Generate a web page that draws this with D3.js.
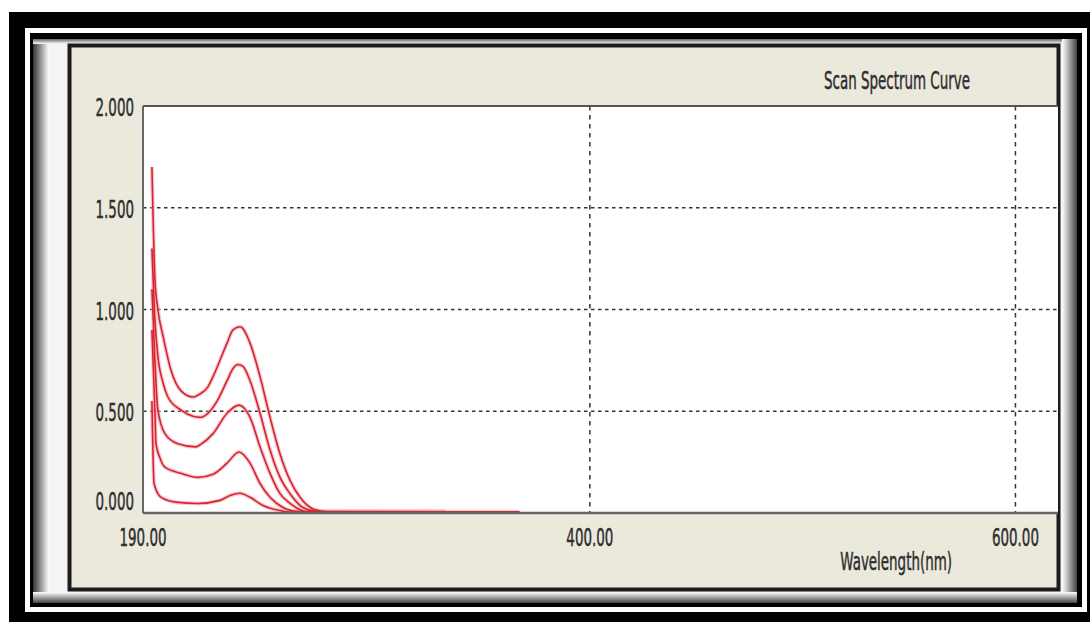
<!DOCTYPE html>
<html>
<head>
<meta charset="utf-8">
<script src="https://cdn.jsdelivr.net/npm/d3@7"></script>
<style>
  html, body { margin: 0; padding: 0; background: #fff; }
  svg { display: block; }
</style>
</head>
<body>
<script>
// spectra: [wavelength nm, absorbance]
let curve1 = [[194.2, 1.70], [195.6, 1.15], [197.0, 1.00], [199.4, 0.87], [203.2, 0.70], [207.9, 0.60],
    [213.5, 0.57], [216.8, 0.585], [220.5, 0.62], [222.9, 0.67], [229.5, 0.835], [232.3, 0.90],
    [235.6, 0.915], [240.3, 0.835], [245.0, 0.67], [249.7, 0.47], [254.4, 0.29], [259.1, 0.16],
    [263.8, 0.077], [269.9, 0.02], [276.5, 0.006], [367, 0.006]];
let curve2 = [[194.2, 1.30], [195.6, 0.95], [197.0, 0.77], [199.4, 0.64], [201.7, 0.57], [207.9, 0.505],
    [213.5, 0.475], [216.8, 0.47], [220.5, 0.49], [224.8, 0.55], [229.5, 0.65], [232.3, 0.71],
    [234.6, 0.73], [237.0, 0.72], [240.3, 0.65], [245.0, 0.49], [249.7, 0.31], [254.4, 0.175],
    [259.1, 0.095], [265.2, 0.027], [273.2, 0.006], [332, 0.006]];
let curve3 = [[194.2, 1.10], [195.6, 0.75], [197.0, 0.505], [200.3, 0.39], [206.4, 0.34], [214.9, 0.325],
    [216.8, 0.335], [222.9, 0.39], [229.5, 0.49], [235.1, 0.53], [240.3, 0.47], [245.0, 0.325],
    [249.7, 0.195], [254.4, 0.095], [259.1, 0.047], [267.1, 0.007], [332, 0.006]];
let curve4 = [[194.2, 0.90], [195.6, 0.50], [196.1, 0.34], [198.0, 0.27], [200.3, 0.225], [207.9, 0.195],
    [215.8, 0.175], [222.9, 0.19], [229.5, 0.245], [235.1, 0.30], [240.3, 0.245], [245.0, 0.145],
    [249.7, 0.077], [255.8, 0.027], [263.8, 0.006], [332, 0.006]];
let curve5 = [[194.2, 0.55], [195.2, 0.145], [198.5, 0.077], [206.4, 0.052], [215.8, 0.047], [226.2, 0.062],
    [230.9, 0.086], [235.6, 0.097], [240.3, 0.077], [246.4, 0.037], [254.4, 0.012], [259.1, 0.005],
    [332, 0.005]];
let curves = [curve1, curve2, curve3, curve4, curve5];

let yTicks = [0, 0.5, 1, 1.5, 2];
let xTicks = [190, 400, 600];
let gridY = [0.5, 1, 1.5];
let gridX = [400, 600];
let title = "Scan Spectrum Curve";
let xTitle = "Wavelength(nm)";

let width = 1090, height = 622;
let squeeze = 0.56;

let svg = d3.select("body").append("svg")
    .attr("width", width)
    .attr("height", height);

let defs = svg.append("defs");
function grad(id, x1, y1, x2, y2, c1, c2) {
    let g = defs.append("linearGradient").attr("id", id)
        .attr("x1", x1).attr("y1", y1).attr("x2", x2).attr("y2", y2);
    g.append("stop").attr("offset", "0%").attr("stop-color", c1);
    g.append("stop").attr("offset", "100%").attr("stop-color", c2);
}
grad("shL", "0%", "0%", "100%", "0%", "#333", "#fff");
grad("shT", "0%", "0%", "0%", "100%", "#666", "#fff");
grad("shR", "0%", "0%", "100%", "0%", "#fff", "#444");
grad("shB", "0%", "0%", "0%", "100%", "#fff", "#444");

// frame: thick black, thin white, thin black
svg.append("rect").attr("x", 9).attr("y", 12).attr("width", 1090).attr("height", 620).attr("fill", "#000");
svg.append("rect").attr("x", 25).attr("y", 28).attr("width", 1062).attr("height", 584).attr("fill", "#fff");
svg.append("rect").attr("x", 30).attr("y", 33).attr("width", 1052).attr("height", 574).attr("fill", "#000");
svg.append("rect").attr("x", 33).attr("y", 39).attr("width", 1044).attr("height", 564).attr("fill", "#f4f4f4");
svg.append("rect").attr("x", 33).attr("y", 39).attr("width", 16).attr("height", 564).attr("fill", "url(#shL)");
svg.append("rect").attr("x", 33).attr("y", 39).attr("width", 1044).attr("height", 5).attr("fill", "url(#shT)");
svg.append("rect").attr("x", 1062).attr("y", 39).attr("width", 15).attr("height", 564).attr("fill", "url(#shR)");
svg.append("rect").attr("x", 33).attr("y", 592).attr("width", 1044).attr("height", 11).attr("fill", "url(#shB)");

// window panel
svg.append("rect")
    .attr("x", 69.5).attr("y", 45.5)
    .attr("width", 989).attr("height", 544)
    .attr("fill", "#ebe8dc")
    .attr("stroke", "#1c1c1c")
    .attr("stroke-width", 4);

let x = d3.scaleLinear().domain([190, 620]).range([143, 1058]);
let y = d3.scaleLinear().domain([0, 2]).range([513, 106]);

// plot area
svg.append("rect")
    .attr("x", x(190)).attr("y", y(2))
    .attr("width", x(620) - x(190)).attr("height", y(0) - y(2))
    .attr("fill", "#fff");

svg.append("g").selectAll("line").data(gridY).join("line")
    .attr("x1", x(190)).attr("x2", x(620))
    .attr("y1", d => y(d)).attr("y2", d => y(d))
    .attr("stroke", "#333")
    .attr("stroke-width", 1.5)
    .attr("stroke-dasharray", "3.5,3.5");

svg.append("g").selectAll("line").data(gridX).join("line")
    .attr("x1", d => x(d)).attr("x2", d => x(d))
    .attr("y1", y(2)).attr("y2", y(0))
    .attr("stroke", "#333")
    .attr("stroke-width", 1.5)
    .attr("stroke-dasharray", "4.5,4.5");

// curves
let line = d3.line()
    .x(d => x(d[0]))
    .y(d => y(d[1]))
    .curve(d3.curveMonotoneX);

let curveG = svg.append("g");
curveG.selectAll("path.halo").data(curves).join("path")
    .attr("class", "halo")
    .attr("d", line)
    .attr("fill", "none")
    .attr("stroke", "#f4a3ac")
    .attr("stroke-opacity", 0.6)
    .attr("stroke-width", 4);
curveG.selectAll("path.core").data(curves).join("path")
    .attr("class", "core")
    .attr("d", line)
    .attr("fill", "none")
    .attr("stroke", "#d42432")
    .attr("stroke-width", 1.6);

// plot borders
svg.append("line").attr("x1", x(190)).attr("x2", x(620)).attr("y1", y(2)).attr("y2", y(2))
    .attr("stroke", "#555").attr("stroke-width", 2);
svg.append("line").attr("x1", x(190)).attr("x2", x(190)).attr("y1", y(2)).attr("y2", y(0))
    .attr("stroke", "#666").attr("stroke-width", 2);
svg.append("line").attr("x1", x(190)).attr("x2", x(620)).attr("y1", y(0)).attr("y2", y(0))
    .attr("stroke", "#666").attr("stroke-width", 2.5);

// narrow text like the original screenshot
function label(px, py, str, anchor) {
    svg.append("g")
        .attr("transform", "translate(" + px + "," + py + ") scale(" + squeeze + ",1)")
        .append("text")
        .attr("text-anchor", anchor)
        .attr("font-family", "DejaVu Sans, sans-serif")
        .attr("font-size", 24)
        .attr("fill", "#2e2e2e")
        .attr("stroke", "#2e2e2e")
        .attr("stroke-width", 0.5)
        .text(str);
}

yTicks.forEach(v => label(134, v === 0 ? y(v) - 3.5 : y(v) + 10, d3.format(".3f")(v), "end"));
xTicks.forEach(v => label(x(v), 546, d3.format(".2f")(v), "middle"));
label(970, 89, title, "end");
label(952, 570, xTitle, "end");
</script>
</body>
</html>
